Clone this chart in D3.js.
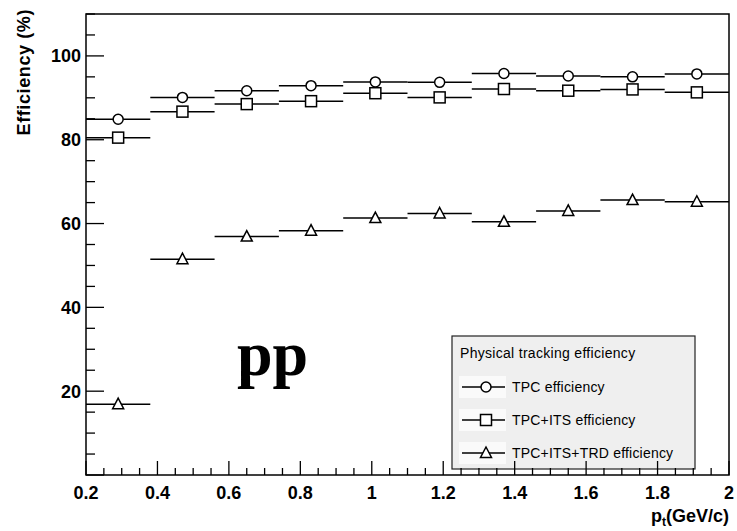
<!DOCTYPE html>
<head>
  <meta charset="utf-8">
  <script src="https://d3js.org/d3.v7.min.js"></script>
  <style>
  body { margin: 0; background: white; }
  #chart text { font-family: "Liberation Sans", Arial, sans-serif; fill: black; }
  </style>
</head>

<body>
  <svg id="chart"></svg>
  <script>

    // pt bins (centres), each bin is 0.18 GeV/c wide
    var ptCenters = [0.29, 0.47, 0.65, 0.83, 1.01, 1.19, 1.37, 1.55, 1.73, 1.91];
    var binHalf = 0.09;

    var tpcEff = [84.9, 90.1, 91.7, 92.9, 93.8, 93.7, 95.8, 95.2, 95.0, 95.7];
    var itsEff = [80.5, 86.7, 88.5, 89.2, 91.1, 90.1, 92.1, 91.7, 92.0, 91.3];
    var trdEff = [16.9, 51.5, 56.9, 58.3, 61.3, 62.4, 60.4, 63.0, 65.6, 65.2];

    var seriesNames = ["TPC efficiency", "TPC+ITS efficiency", "TPC+ITS+TRD efficiency"];
    var seriesMarkers = ["circle", "square", "triangle"];
    var xTickLabels = [0.2, 0.4, 0.6, 0.8, 1, 1.2, 1.4, 1.6, 1.8, 2];
    var yTickLabels = [20, 40, 60, 80, 100];

    var width = 737, height = 531;
    var frame = {left: 86, right: 729, top: 14, bottom: 475};

    var svg = d3.select('#chart')
        .attr('width', width)
        .attr('height', height);

    var x = d3.scaleLinear().domain([0.2, 2]).range([frame.left, frame.right]);
    var y = d3.scaleLinear().domain([0, 110]).range([frame.bottom, frame.top]);

    function drawMarker(g, type, cx, cy) {
      if (type === "circle") {
        g.append('circle').attr('cx', cx).attr('cy', cy).attr('r', 5)
          .attr('fill', 'white').attr('stroke', 'black').attr('stroke-width', 1.5);
      } else if (type === "square") {
        g.append('rect').attr('x', cx - 5.5).attr('y', cy - 5.5).attr('width', 11).attr('height', 11)
          .attr('fill', 'white').attr('stroke', 'black').attr('stroke-width', 1.5);
      } else {
        g.append('path').attr('d', "M" + cx + "," + (cy - 6) + "L" + (cx + 5.5) + "," + (cy + 4.5) + "L" + (cx - 5.5) + "," + (cy + 4.5) + "Z")
          .attr('fill', 'white').attr('stroke', 'black').attr('stroke-width', 1.5);
      }
    }

    // data
    var allSeries = [tpcEff, itsEff, trdEff];
    allSeries.forEach(function(vals, s) {
      var g = svg.append('g');
      g.selectAll('line')
          .data(vals)
        .enter().append('line')
          .attr('x1', function(d, i) { return x(ptCenters[i] - binHalf); })
          .attr('x2', function(d, i) { return x(ptCenters[i] + binHalf); })
          .attr('y1', function(d) { return y(d); })
          .attr('y2', function(d) { return y(d); })
          .attr('stroke', 'black')
          .attr('stroke-width', 1.5);
      vals.forEach(function(d, i) {
        drawMarker(g, seriesMarkers[s], x(ptCenters[i]), y(d));
      });
    });

    // legend
    var leg = svg.append('g');
    leg.append('rect')
        .attr('x', 452).attr('y', 336).attr('width', 243).attr('height', 133)
        .attr('fill', '#efefef').attr('stroke', '#222').attr('stroke-width', 1.2);
    leg.append('text')
        .attr('x', 460).attr('y', 358)
        .style('font-size', '14px').style('letter-spacing', '0.3px')
        .text("Physical tracking efficiency");
    seriesNames.forEach(function(name, i) {
      var ly = 387 + i * 33;
      leg.append('rect').attr('x', 459).attr('y', ly - 11).attr('width', 47).attr('height', 22).attr('fill', '#fafafa');
      leg.append('line').attr('x1', 462).attr('x2', 505).attr('y1', ly).attr('y2', ly)
          .attr('stroke', 'black').attr('stroke-width', 1.5);
      drawMarker(leg, seriesMarkers[i], 486, ly);
      leg.append('text')
          .attr('x', 512).attr('y', ly + 5)
          .style('font-size', '14px').style('letter-spacing', '0.2px')
          .text(name);
    });

    // frame
    svg.append('rect')
        .attr('x', frame.left).attr('y', frame.top)
        .attr('width', frame.right - frame.left).attr('height', frame.bottom - frame.top)
        .attr('fill', 'none').attr('stroke', 'black').attr('stroke-width', 1.5);

    // x axis ticks
    var xMinor = d3.range(0.2, 2.001, 0.05);
    svg.append('g').selectAll('line')
        .data(xMinor)
      .enter().append('line')
        .attr('x1', function(d) { return x(d); })
        .attr('x2', function(d) { return x(d); })
        .attr('y1', frame.bottom)
        .attr('y2', function(d, i) { return frame.bottom - (i % 4 === 0 ? 14 : 7); })
        .attr('stroke', 'black').attr('stroke-width', 1.3);
    svg.append('g').selectAll('text')
        .data(xTickLabels)
      .enter().append('text')
        .attr('x', function(d) { return x(d); })
        .attr('y', 499)
        .attr('text-anchor', 'middle')
        .style('font-size', '18px').style('font-weight', 'bold')
        .text(function(d) { return d; });

    // y axis ticks
    var yMinor = d3.range(0, 110.01, 5);
    svg.append('g').selectAll('line')
        .data(yMinor)
      .enter().append('line')
        .attr('x1', frame.left)
        .attr('x2', function(d) { return frame.left + (d % 20 === 0 ? 18 : 9); })
        .attr('y1', function(d) { return y(d); })
        .attr('y2', function(d) { return y(d); })
        .attr('stroke', 'black').attr('stroke-width', 1.3);
    svg.append('g').selectAll('text')
        .data(yTickLabels)
      .enter().append('text')
        .attr('x', 81)
        .attr('y', function(d) { return y(d) + 6.5; })
        .attr('text-anchor', 'end')
        .style('font-size', '18px').style('font-weight', 'bold')
        .text(function(d) { return d; });

    // axis titles
    svg.append('text')
        .attr('transform', 'translate(30,9) rotate(-90)')
        .attr('text-anchor', 'end')
        .style('font-size', '18px').style('font-weight', 'bold').style('letter-spacing', '0.6px')
        .text("Efficiency (%)");
    var xt = svg.append('text')
        .attr('x', 729).attr('y', 522)
        .attr('text-anchor', 'end')
        .style('font-size', '18px').style('font-weight', 'bold');
    xt.append('tspan').text("p");
    xt.append('tspan').attr('dy', 4).style('font-size', '12px').text("t");
    xt.append('tspan').attr('dy', -4).text("(GeV/c)");

    // big label
    svg.append('text')
        .attr('x', 237).attr('y', 375)
        .style('font-family', '"Liberation Serif", "Times New Roman", serif')
        .style('font-size', '64px').style('font-weight', 'bold')
        .text("pp");

  </script>
</body>
